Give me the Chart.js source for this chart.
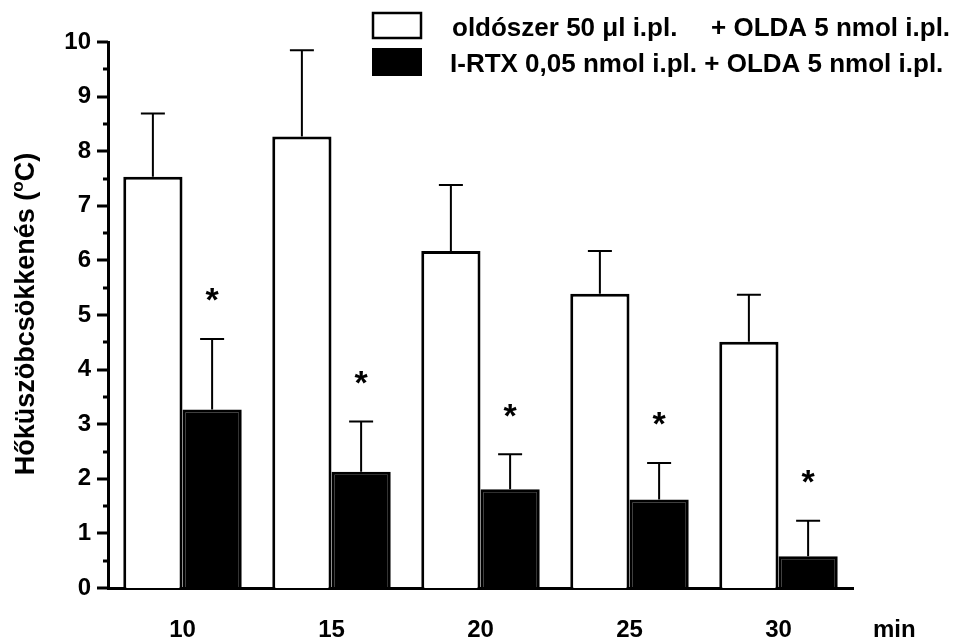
<!DOCTYPE html>
<html>
<head>
<meta charset="utf-8">
<script src="https://cdn.jsdelivr.net/npm/chart.js@4/dist/chart.umd.min.js"></script>
<style>
  html, body { margin: 0; padding: 0; background: #fff; }
  #wrap { width: 956px; height: 643px; }
</style>
</head>
<body>
<div id="wrap"><canvas id="chart1" width="956" height="643"></canvas></div>
<script>
// adatok
var idopontok = ['10', '15', '20', '25', '30'];
var oldoszerAtlag = [7.53, 8.27, 6.17, 5.39, 4.51];
var oldoszerSEM = [1.16, 1.58, 1.21, 0.78, 0.86];
var rtxAtlag = [3.27, 2.13, 1.81, 1.62, 0.58];
var rtxSEM = [1.29, 0.92, 0.64, 0.67, 0.65];
var csillag = [true, true, true, true, true];
var yTicks = [0, 1, 2, 3, 4, 5, 6, 7, 8, 9, 10];

var legendElso = ['oldószer 50 \u03bcl i.pl.', '+ OLDA 5 nmol i.pl.'];
var legendMasodik = 'I-RTX 0,05 nmol i.pl. + OLDA 5 nmol i.pl.';

var betu = '"Liberation Sans", Arial, sans-serif';

// hibasavok, csillagok, tengelyjelek, felirat, jelmagyarazat
var rajzolo = {
    id: 'rajzolo',
    afterDatasetsDraw: function (chart) {
        var ctx = chart.ctx;
        var y = chart.scales.y;
        var area = chart.chartArea;
        ctx.save();
        ctx.strokeStyle = '#000';
        ctx.fillStyle = '#000';

        // hibasavok (csak felfele)
        var sorozat = [[oldoszerAtlag, oldoszerSEM], [rtxAtlag, rtxSEM]];
        sorozat.forEach(function (s, di) {
            var meta = chart.getDatasetMeta(di);
            meta.data.forEach(function (bar, i) {
                var top = y.getPixelForValue(s[0][i]);
                var err = y.getPixelForValue(s[0][i] + s[1][i]);
                ctx.lineWidth = 2;
                ctx.beginPath();
                ctx.moveTo(bar.x, top);
                ctx.lineTo(bar.x, err);
                ctx.moveTo(bar.x - 12, err);
                ctx.lineTo(bar.x + 12, err);
                ctx.stroke();
                if (di === 1 && csillag[i]) {
                    ctx.font = 'bold 34px ' + betu;
                    ctx.textAlign = 'center';
                    ctx.textBaseline = 'middle';
                    ctx.fillText('*', bar.x, err - 37);
                }
            });
        });

        // y tengely jelek (fel egysegenkent)
        ctx.lineWidth = 3;
        ctx.beginPath();
        for (var v = 0; v <= 10; v += 0.5) {
            var py = Math.round(y.getPixelForValue(v));
            var len = (v % 1 === 0) ? 11 : 5;
            ctx.moveTo(area.left - len, py);
            ctx.lineTo(area.left, py);
        }
        ctx.stroke();

        // y tengely felirat
        ctx.save();
        ctx.translate(27, 314);
        ctx.rotate(-Math.PI / 2);
        ctx.textBaseline = 'middle';
        var t1 = 'Hőküszöbcsökkenés (';
        var t2 = 'o';
        var t3 = 'C)';
        ctx.font = 'bold 27px ' + betu;
        var w1 = ctx.measureText(t1).width;
        var w3 = ctx.measureText(t3).width;
        ctx.font = 'bold 17px ' + betu;
        var w2 = ctx.measureText(t2).width;
        var start = -(w1 + w2 + w3) / 2;
        ctx.textAlign = 'left';
        ctx.font = 'bold 27px ' + betu;
        ctx.fillText(t1, start, 0);
        ctx.font = 'bold 17px ' + betu;
        ctx.fillText(t2, start + w1, -9);
        ctx.font = 'bold 27px ' + betu;
        ctx.fillText(t3, start + w1 + w2, 0);
        ctx.restore();

        // "min" az x tengely vegen
        ctx.font = 'bold 24px ' + betu;
        ctx.textAlign = 'left';
        ctx.textBaseline = 'middle';
        ctx.fillText('min', 873, 630);

        // jelmagyarazat
        ctx.lineWidth = 2.5;
        ctx.fillStyle = '#fff';
        ctx.fillRect(373, 13, 48, 25);
        ctx.strokeRect(373, 13, 48, 25);
        ctx.fillStyle = '#000';
        ctx.fillRect(372, 48, 50, 28);
        ctx.font = 'bold 26px ' + betu;
        ctx.textAlign = 'left';
        ctx.textBaseline = 'alphabetic';
        ctx.fillText(legendElso[0], 452, 36);
        ctx.fillText(legendElso[1], 711, 36);
        ctx.fillText(legendMasodik, 450, 72);

        ctx.restore();
    }
};

var ctx1 = document.getElementById('chart1');
var chart1 = new Chart(ctx1, {
    type: 'bar',
    data: {
        labels: idopontok,
        datasets: [{
            label: legendElso.join('    '),
            data: oldoszerAtlag,
            backgroundColor: '#fff',
            borderColor: '#000',
            borderWidth: 3
        }, {
            label: legendMasodik,
            data: rtxAtlag,
            backgroundColor: '#000',
            borderColor: '#000',
            borderWidth: 3
        }]
    },
    options: {
        responsive: false,
        animation: false,
        devicePixelRatio: 1,
        datasets: {
            bar: { barPercentage: 1, categoryPercentage: 0.795 }
        },
        layout: {
            padding: { left: 0, right: 103, top: 42, bottom: 0 }
        },
        plugins: {
            legend: { display: false },
            tooltip: { enabled: false }
        },
        scales: {
            x: {
                grid: { display: false, drawTicks: false },
                border: { display: true, color: '#000', width: 3 },
                ticks: {
                    color: '#000',
                    padding: 28,
                    maxRotation: 0,
                    font: { family: betu, size: 24, weight: 'bold' }
                },
                afterFit: function (scale) { scale.height = 55; }
            },
            y: {
                min: 0,
                max: 10,
                grid: { display: false, drawTicks: false },
                border: { display: true, color: '#000', width: 3 },
                afterBuildTicks: function (scale) {
                    scale.ticks = yTicks.map(function (v) { return { value: v }; });
                },
                ticks: {
                    color: '#000',
                    padding: 17,
                    font: { family: betu, size: 24, weight: 'bold' }
                },
                afterFit: function (scale) { scale.width = 108; }
            }
        }
    },
    plugins: [rajzolo]
});
</script>
</body>
</html>
